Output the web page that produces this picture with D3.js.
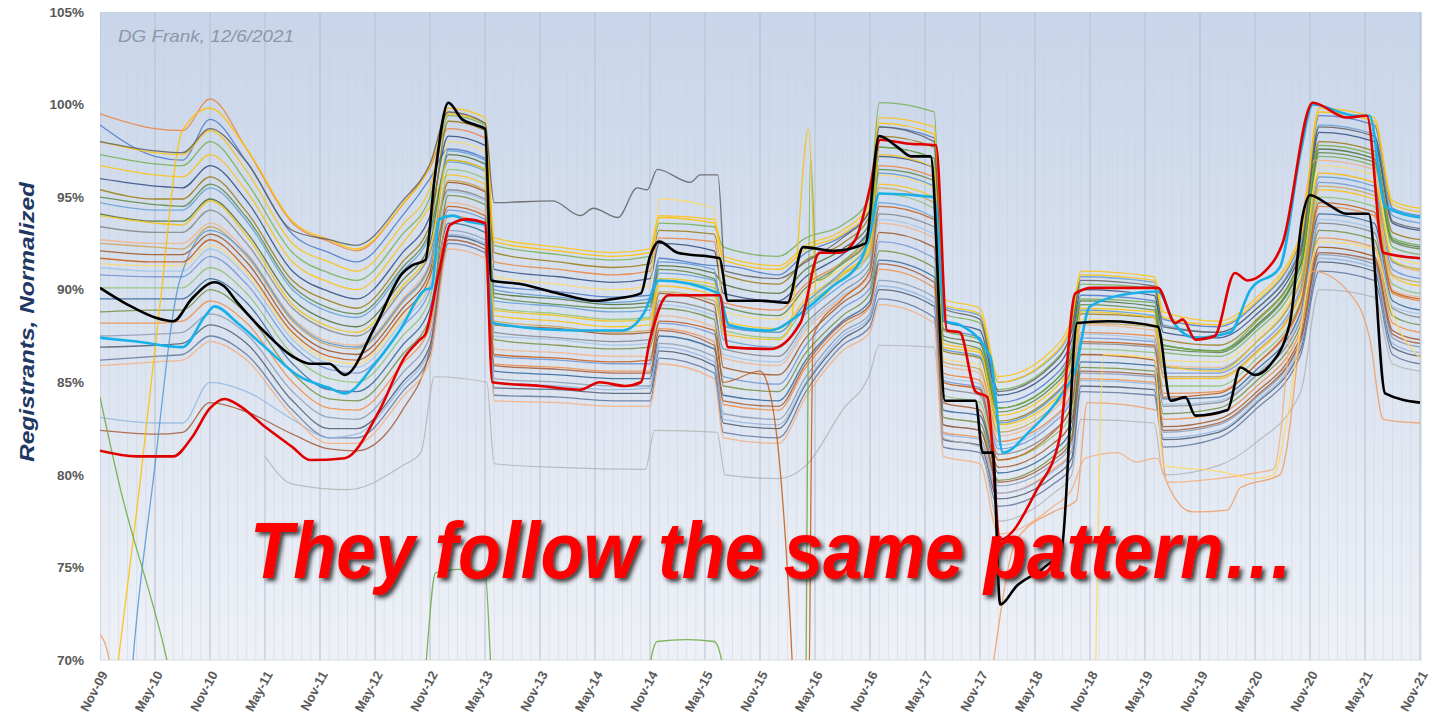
<!DOCTYPE html>
<html><head><meta charset="utf-8">
<script src="https://cdn.jsdelivr.net/npm/d3@7"></script>
<style>body{margin:0;background:#fff;}svg{display:block;}</style>
</head><body>
<svg id="chart" width="1442" height="724"></svg>
<script>
// ---------- DATA ----------
const tickLabels = ["Nov-09","May-10","Nov-10","May-11","Nov-11","May-12","Nov-12","May-13","Nov-13","May-14","Nov-14","May-15","Nov-15","May-16","Nov-16","May-17","Nov-17","May-18","Nov-18","May-19","Nov-19","May-20","Nov-20","May-21","Nov-21"];
const tickMonths = [0,6,12,18,24,30,36,42,48,54,60,66,72,78,84,90,96,102,108,114,120,126,132,138,144];
const yTicks = [70,75,80,85,90,95,100,105];

// months since Nov-09 shared by the background registrant lines
const monthsBg = [0,6,9,12,16,21,25,28,33,36,38,42,43,50,56,60,61,67,68,74,77,81,84,85,91,92,96,98,104,106,107,115,116,122,126,131,133,139,141,144];
const bgColors = ["#ed7d31","#4472c4","#70ad47","#ffc000","#264478","#997300","#5b9bd5","#43682b","#7f7f7f","#f4b183","#9e480e","#ffd966","#698ed0","#8cc168","#255e91","#6f8a33","#f08a3c","#8497b0","#44546a","#ffc000","#548235","#9dc3e6","#c9a14a","#5a6f9a","#8fb4e3","#a0522d"];
const bg01 = [99.5,98.7,98.6,100.3,97.6,93.6,92.6,92.1,94.6,96.6,98.7,98.2,91.5,91.1,90.8,91.0,92.8,92.6,89.3,88.9,90.3,91.5,92.9,96.7,96.1,85.5,85.1,81.8,83.1,84.5,87.7,87.5,84.4,84.5,85.9,89.1,94.5,94.0,89.8,89.4];
const bg02 = [98.9,97.2,97.0,99.2,96.9,93.0,92.0,91.5,94.0,96.0,97.6,97.1,90.2,89.9,89.6,89.7,91.7,91.3,91.3,90.8,92.0,92.9,94.3,98.8,98.2,87.9,87.4,83.9,85.3,86.9,89.7,89.4,88.4,88.0,89.2,92.7,99.4,98.9,94.4,94.0];
const bg03 = [97.3,96.8,96.7,98.0,95.8,92.0,90.9,90.5,93.0,95.0,99.4,98.9,92.4,91.9,91.6,91.8,93.6,93.4,92.3,91.8,92.8,93.5,95.0,100.1,99.6,88.7,88.2,84.6,86.1,87.7,90.3,90.1,86.6,86.4,87.7,91.0,97.2,96.7,92.3,91.9];
const bg04 = [96.7,96.2,96.1,97.3,95.3,91.5,90.4,90.0,92.5,94.5,96.2,95.7,88.6,88.3,88.0,88.1,90.2,89.7,88.3,87.9,89.5,90.9,92.2,95.7,95.0,87.1,86.7,83.2,84.6,86.1,89.0,88.8,85.2,85.2,86.5,89.8,95.4,94.9,90.7,90.2];
const bg05 = [96.0,95.6,95.5,96.7,94.8,91.0,89.9,89.5,92.0,94.0,98.3,97.8,91.1,90.7,90.4,90.6,92.5,92.1,89.8,89.4,90.7,91.9,93.3,97.2,96.6,88.3,87.8,84.3,85.7,87.3,90.0,89.7,87.7,87.4,88.6,92.0,98.5,98.0,93.6,93.2];
const bg06 = [95.4,94.9,94.9,96.1,94.2,90.5,89.4,89.0,91.5,93.5,99.1,98.6,92.0,91.5,91.2,91.4,93.2,93.0,90.8,90.3,91.6,92.5,94.0,98.3,97.7,86.7,86.3,82.9,84.3,85.7,88.7,88.5,87.3,87.0,88.3,91.7,98.0,97.5,93.1,92.7];
const bg07 = [94.7,94.3,94.3,95.5,93.7,90.0,88.8,88.5,91.0,93.0,96.9,96.4,89.4,89.1,88.8,88.9,90.9,90.5,87.3,86.9,88.7,90.3,91.5,94.7,93.9,89.1,88.6,85.0,86.4,88.1,90.7,90.4,88.1,87.7,88.9,92.4,98.9,98.4,94.0,93.6];
const bg08 = [94.1,93.7,93.7,94.9,93.1,89.5,88.3,88.0,90.5,92.5,97.3,96.8,89.8,89.5,89.2,89.3,91.3,90.9,90.3,89.8,91.1,92.2,93.6,97.7,97.1,87.5,87.1,83.6,85.0,86.5,89.4,89.1,87.0,86.7,88.0,91.4,97.6,97.1,92.7,92.3];
const bg09 = [93.4,93.1,93.1,94.3,92.5,89.0,87.8,87.5,90.0,92.0,95.4,94.9,87.7,87.4,87.2,87.3,89.4,88.8,86.8,86.4,88.2,89.9,91.2,94.1,93.4,84.7,84.3,81.1,82.4,83.7,87.1,86.9,83.7,83.9,85.3,88.4,93.6,93.1,89.0,88.5];
const bg10 = [92.7,92.5,92.5,93.6,92.0,88.5,87.2,87.0,89.5,91.5,94.7,94.2,86.8,86.6,86.4,86.4,88.6,88.0,86.3,85.9,87.8,89.6,90.8,93.6,92.8,85.9,85.5,82.1,83.5,84.9,88.1,87.8,85.9,85.8,87.1,90.4,96.3,95.8,91.5,91.0];
const bg11 = [92.1,91.9,91.9,93.0,91.5,88.0,86.7,86.5,89.0,91.0,95.8,95.3,88.1,87.9,87.6,87.7,89.8,89.2,85.8,85.4,87.4,89.3,90.5,93.1,92.3,83.9,83.5,80.4,81.7,82.9,86.5,86.2,82.6,83.0,84.4,87.5,92.3,91.8,87.8,87.3];
const bg12 = [91.4,91.3,91.3,92.4,90.9,87.5,86.2,86.0,88.5,90.5,98.0,97.5,90.7,90.3,90.0,90.2,94.9,94.4,88.8,88.4,89.9,91.2,92.6,96.2,95.5,86.3,85.9,82.5,83.9,85.3,88.4,88.1,86.2,86.1,87.4,90.7,96.7,96.2,91.9,91.4];
const bg13 = [90.8,90.7,90.7,91.8,90.3,87.0,85.7,85.5,88.0,90.0,94.3,93.8,86.4,86.2,86.0,86.0,88.2,87.6,85.3,84.9,87.0,89.0,90.1,92.6,91.7,85.1,84.7,81.4,82.8,84.1,87.4,87.2,85.5,85.5,86.8,90.1,95.8,95.3,91.1,90.6];
const bg14 = [90.1,90.1,90.1,91.2,89.8,86.5,85.2,85.0,87.5,89.5,96.5,96.0,89.0,88.7,88.4,88.5,90.5,90.1,87.8,87.4,89.1,90.6,91.9,95.2,94.4,84.3,83.9,80.8,82.1,83.3,86.8,86.6,84.8,84.8,86.2,89.4,95.0,94.5,90.3,89.8];
const bg15 = [89.5,89.5,89.5,90.6,89.3,86.0,84.6,84.5,87.0,89.0,93.6,93.1,85.6,85.4,85.2,85.2,87.5,86.8,84.3,84.0,86.2,88.3,89.4,91.6,90.7,83.5,83.2,80.1,81.3,82.5,86.1,85.9,84.1,84.2,85.6,88.8,94.1,93.6,89.4,88.9];
const bg16 = [88.8,88.9,88.9,90.0,88.7,85.5,84.1,84.0,86.5,88.5,95.1,94.6,87.3,87.0,86.8,86.9,89.0,88.4,84.8,84.5,86.6,88.6,89.8,92.1,91.2,83.1,82.8,79.7,81.0,82.1,85.8,85.6,83.3,83.6,85.0,88.1,93.2,92.7,88.6,88.1];
const bg17 = [88.2,88.2,88.3,89.4,88.2,85.0,83.6,83.5,86.0,88.0,94.0,93.5,86.0,85.8,85.6,85.6,87.9,87.2,83.8,83.5,85.8,88.0,89.1,91.1,90.1,82.3,82.0,79.0,80.3,81.3,85.2,85.0,83.0,83.3,84.7,87.8,92.8,92.3,88.2,87.7];
const bg18 = [87.5,87.6,87.7,88.7,87.6,84.5,83.1,83.0,85.5,87.5,93.2,92.7,85.2,85.0,84.8,84.8,87.1,86.4,83.3,83.0,85.3,87.7,88.7,90.5,89.6,82.7,82.4,79.4,80.6,81.7,85.5,85.3,82.3,82.7,84.1,87.2,91.9,91.4,87.4,86.9];
const bg19 = [86.9,87.0,87.1,88.1,87.1,84.0,82.5,82.5,85.0,87.0,92.9,92.4,84.7,84.6,84.4,84.4,86.7,85.9,82.8,82.5,84.9,87.3,88.4,90.0,89.1,81.9,81.6,78.7,79.9,80.9,84.8,84.6,81.9,82.3,83.8,86.8,91.5,91.0,86.9,86.4];
const bg20 = [98.0,97.4,97.3,98.6,96.4,92.5,91.5,91.0,93.5,95.5,99.8,99.3,92.8,92.3,92.0,92.2,94.0,93.8,91.8,91.3,92.4,93.2,94.7,99.3,98.8,89.5,89.0,85.3,86.8,88.5,91.0,90.7,88.8,88.3,89.5,93.0,99.8,99.3,94.8,94.4];
const bg21 = [95.0,94.6,94.5,95.7,93.9,90.2,89.0,88.7,91.2,93.2,97.0,96.5,89.6,89.2,89.0,89.1,91.1,90.6,89.1,88.6,90.1,91.4,92.8,96.5,95.9,87.3,86.8,83.4,84.8,86.3,89.2,88.9,86.8,86.6,87.9,91.3,97.4,96.9,92.6,92.2];
const bg22 = [91.2,91.0,91.0,92.2,90.7,87.3,86.0,85.8,88.3,90.3,95.3,94.8,87.5,87.3,87.0,87.1,89.2,88.6,86.5,86.1,88.0,89.7,90.9,93.8,93.0,85.3,84.9,81.6,83.0,84.3,87.6,87.3,83.8,84.0,85.4,88.6,93.8,93.3,89.1,88.7];
const bg23 = [92.5,92.3,92.2,93.4,91.8,88.3,87.0,86.8,89.3,91.3,95.9,95.4,88.3,88.0,87.7,87.8,89.9,89.4,88.1,87.7,89.3,90.8,92.0,95.5,94.7,86.1,85.7,82.3,83.7,85.1,88.2,88.0,85.3,85.3,86.6,89.9,95.6,95.1,90.8,90.4];
const bg24 = [86.2,86.4,86.5,87.5,86.5,83.5,82.0,82.0,84.5,86.5,92.5,92.0,84.3,84.2,84.0,84.0,86.3,85.5,82.3,82.0,84.5,87.0,88.0,89.5,88.5,81.5,81.2,78.3,79.5,80.5,84.5,84.3,81.5,82.0,83.5,86.5,91.0,90.5,86.5,86.0];
const bg25 = [83.1,82.8,82.8,85.0,84.5,83.0,82.0,82.2,84.8,86.8,93.0,92.5,85.0,84.8,84.6,84.7,86.9,86.1,83.0,82.7,85.0,87.5,88.5,90.2,89.3,82.2,81.9,79.0,80.2,81.3,85.1,84.9,82.0,82.4,83.9,87.0,91.7,91.2,87.1,86.6];
const bg26 = [82.4,82.2,82.3,83.9,83.4,82.2,81.4,81.3,83.5,86.8,92.7,92.2,85.9,85.7,85.5,85.5,87.8,87.0,84.0,83.7,86.0,88.2,89.2,91.4,90.4,82.7,82.4,79.6,80.8,81.9,85.6,85.4,82.4,82.8,84.2,87.3,92.0,91.6,87.6,87.1];
const bgSeries = [bg01,bg02,bg03,bg04,bg05,bg06,bg07,bg08,bg09,bg10,bg11,bg12,bg13,bg14,bg15,bg16,bg17,bg18,bg19,bg20,bg21,bg22,bg23,bg24,bg25,bg26];

// outlier registrant lines (own month positions)
const greyTopMonths = [0,6,9,12,16,21,25,28,33,36,38,42,43,49.4,52.4,53.8,56.5,58.6,59.7,60.8,64.4,65.5,67.4,68.2,74,77,81,84,85,91,92,96,98,104,106,107,115,116,122,126,131,133,139,141,144];
const greyTopValues = [98.0,97.5,97.4,98.7,96.9,93.2,92.7,92.4,94.8,96.8,99.6,99.0,94.7,94.8,94.0,94.4,93.9,95.5,95.4,96.5,95.8,96.2,96.2,91.0,90.6,91.5,92.8,94.3,98.8,98.0,89.0,88.4,84.5,86.0,87.8,90.5,90.2,88.0,87.7,88.9,92.2,98.8,98.3,93.7,93.3];
const greyLowMonths = [18,21,27,33,35,36.5,42.2,43,50,59.5,60.5,67.3,68.2,74,77,81,84,85,91,92,96,98,104,106,107,115,116,122,126,131,133,139,141,144];
const greyLowValues = [81.0,79.5,79.2,80.5,81.2,85.3,85.0,80.6,80.4,80.3,82.4,82.3,80.0,79.8,80.5,83.5,85.5,87.0,86.9,82.0,81.5,77.5,79.0,80.0,83.0,82.8,80.0,80.5,81.7,84.5,90.0,89.6,86.0,85.6];
const yellowLeftMonths = [0,2,4.4,6.5,9,12,16,21,25,28,33,36,38,42,43,50,56,60,61,67,68,74,77,81,84,85,91,92,96,98,104,106,107,115,116,122,126,131,133,139,141,144];
const yellowLeftValues = [62.0,70.0,79.7,89.0,98.6,99.8,97.6,93.7,92.7,92.2,94.6,96.7,99.5,99.0,92.6,92.1,91.8,92.0,93.9,93.6,91.6,91.1,92.2,93.0,94.4,99.0,98.4,89.2,88.7,85.0,86.5,88.2,90.8,90.5,88.5,88.1,89.3,92.8,99.6,99.1,94.6,94.2];
const blueLeftMonths = [3.0,3.6,5.8,8.7,12,16,21,25,28,33,36,38,42,43,50,56,60,61,67,68,74,77,81,84,85,91,92,96,98,104,106,107,115,116,122,126,131,133,139,141,144];
const blueLeftValues = [66,70,79.7,90.5,93.2,91.9,88.4,87.1,86.9,89.4,91.4,97.5,97.0,90.0,89.6,89.3,89.5,91.5,91.1,88.0,87.7,89.3,91.0,92.7,96.3,95.6,86.8,86.4,82.8,84.2,85.8,88.9,88.6,85.8,85.7,87.1,90.5,96.1,95.6,91.5,91.1];
const yellowSpikeMonths = [0,6,9,12,16,21,25,28,33,36,38,42,43,50,56,60,61,67,68,74,75.3,77.3,78.2,81,84,85,91,92,96,98,104,106,107,115,116,122,126,131,133,139,141,144];
const yellowSpikeValues = [94.0,93.6,93.5,94.8,92.9,89.2,88.0,87.7,90.2,92.2,97.0,96.5,88.9,88.6,88.3,88.4,90.6,90.3,87.6,87.3,88.0,98.7,89.5,90.8,92.4,97.3,96.6,86.9,86.6,82.7,84.0,85.6,88.8,88.5,85.9,85.6,87.1,90.6,96.3,95.8,91.6,91.1];
const greenMonths = [0,2,7.3,9,35,35.6,36.6,39,42,42.6,43,59.5,60.1,60.8,64,67,67.8,68.3,76.8,77.5,78.2,81,84,85,91,92,96,98,104,106,107,115,116,122,126,131,133,139,141,144];
const greenValues = [84.2,79.7,70,66,66,70,74.7,74.9,74.8,70,66,66,70,71.0,71.1,71.0,70,66,60,97.1,90.5,91.5,93.3,97.7,97.1,87.8,87.3,83.6,85.0,86.8,89.5,89.3,87.0,86.7,88.2,91.6,97.8,97.3,92.8,92.4];
const brownMonths = [0,6,9,12,16,21,25,28,33,36,38,42,43,50,56,60,61,67,68,72,73,74.3,75.5,76,77.2,77.8,81,84,85,91,92,96,98,104,106,107,115,116,122,126,131,133,139,141,144];
const brownValues = [91.7,91.5,91.5,92.7,91.1,87.7,86.4,86.2,88.7,90.7,94.5,94.0,86.5,86.3,86.1,86.2,88.3,87.8,85.0,85.6,84.6,79.7,70,64,64,87.5,89.5,91.0,94.5,93.8,85.0,84.6,80.8,82.3,83.8,87.2,87.0,84.2,84.4,85.9,89.3,94.7,94.2,89.9,89.5];
const orangeLowMonths = [0,1,2,96,97.5,100,104,106.5,107.7,115.3,116.3,119.2,123,124.4,128.7,132.3,137.1,138.5,140,144];
const orangeLowValues = [71.4,70,64,64,70,76.5,78.0,78.6,83.9,83.5,79.7,78.0,78.1,79.3,80.0,91.0,89.3,87.4,83.0,82.8];
const lightOrangeMonths = [0,6,9,12,16,21,25,28,33,36,38,42,43,50,56,60,61,67,68,74,77,81,84,85,91,92,96,98,104,106,107.5,111,113,115.3,116.5,122,126,128,130.8,132.5,139,141,144];
const lightOrangeValues = [85.9,86.1,86.2,87.2,86.2,83.2,81.7,81.7,84.2,86.2,92.2,91.7,84.0,83.9,83.7,83.7,86.0,85.2,82.0,81.7,84.2,86.7,87.7,89.2,88.2,81.0,80.6,76.8,78.3,79.2,80.9,81.2,80.7,80.9,79.6,79.8,80.1,80.3,92.7,97.0,96.5,90.0,89.6];
const yellowLowMonths = [108.5,109.5,115,116,122,126,128,129.5,131,133,139,141,144];
const yellowLowValues = [66,86.5,86.3,80.5,80.2,79.8,80.0,83.0,88.0,92.6,92.2,88.7,86.3];

// highlighted registrant lines
const cyanMonths = [0,4,9,11.5,12.5,15,18,21.8,25,26.7,30,32.7,35.5,36.2,37,38.5,40,42,42.8,52,57,59.3,61,67.5,68.6,73,76.4,79.7,83,84,85,91,92.2,93.8,97.1,98.5,101.5,104.7,106.4,108,112.4,115.4,117.3,119.5,123.3,125.5,128.7,131,132.3,137,138.5,140.2,144];
const cyanValues = [87.4,87.2,86.9,88.6,89.1,88.2,86.9,85.3,84.7,84.4,86.0,87.8,90.0,90.1,93.8,94.0,93.7,93.5,88.2,87.8,87.8,88.7,90.5,89.8,88.1,87.8,88.7,90.1,91.6,93.0,95.2,95.0,88.3,88.1,86.4,81.2,82.4,84.2,85.7,89.1,89.8,89.9,88.1,87.4,87.7,90.0,91.2,97.5,100.0,99.4,99.4,94.5,93.9];
const redMonths = [0,4,8,10,12,13.6,15,18,21,22.9,26.7,30.5,33.3,34.9,35.5,37,38.2,40,42,42.8,48,52.4,54.5,57.3,59,60,62,67.6,68.5,73.1,76.4,78.5,80.7,82.4,84,85.1,88,91.2,92.4,93.8,95.5,96.8,98.2,102.2,104.7,106.4,108.3,115.4,117.3,118.1,119.5,121.6,123.8,125.2,127.1,129,132.3,136,138.2,140,144];
const redValues = [81.3,81.0,81.0,82.0,83.6,84.1,83.8,82.6,81.5,80.8,80.9,83.5,86.4,87.3,87.6,91.0,93.5,93.8,93.6,85.0,84.8,84.6,85.0,84.8,85.0,87.3,89.7,89.7,86.9,86.8,88.2,92.0,92.0,92.7,95.5,98.1,97.9,97.8,87.8,87.7,84.5,84.2,76.5,79.2,82.0,89.8,90.1,90.1,88.2,88.4,87.3,87.5,90.9,90.5,91.0,92.5,100.1,99.3,99.4,92.0,91.7];
const blackMonths = [0,3,6,8,10,12.5,13.5,15,18,21,22.9,25,26.7,30,33,34,35.5,36.5,38,39.5,41,42,42.7,46,50,54,56,59,60,61,63,67.6,68.5,72,75,76.7,80,83.5,85,87,88.5,90.6,92.2,95.5,96.3,97.4,98.2,100,103,104.9,106.6,110,115.4,116.8,118.4,119.5,123,124.4,126,127.6,129.8,131.2,132,134,136,138.4,140.2,144];
const blackValues = [90.1,89.2,88.5,88.3,89.5,90.4,90.2,89.3,87.7,86.4,86.0,86.0,85.4,88.0,90.9,91.3,91.6,96.0,100.1,99.2,98.9,98.7,90.5,90.3,89.8,89.4,89.5,89.8,91.8,92.6,92.0,91.7,89.4,89.4,89.3,92.3,92.1,92.5,98.3,97.7,97.2,97.2,84.0,84.0,81.2,81.2,73.0,74.0,75.0,76.0,88.2,88.3,88.0,84.0,84.2,83.2,83.5,85.8,85.4,85.9,88.2,94.0,95.1,94.6,94.1,94.1,84.4,83.9];

const creditText = "DG Frank, 12/6/2021";
const yTitle = "Registrants, Normalized";
const annotation = "They follow the same pattern\u2026";

// ---------- CHART ----------
const svg = d3.select("#chart");
const P = {left:100, right:1422, top:12, bottom:660};
const x = d3.scaleLinear().domain([0,144]).range([100,1420]);
const y = d3.scaleLinear().domain([70,105]).range([P.bottom,P.top]);

const defs = svg.append("defs");
const grad = defs.append("linearGradient").attr("id","bgGrad").attr("x1",0).attr("y1",0).attr("x2",0).attr("y2",1);
grad.append("stop").attr("offset","0%").attr("stop-color","#c8d5ea");
grad.append("stop").attr("offset","55%").attr("stop-color","#dce4f0");
grad.append("stop").attr("offset","100%").attr("stop-color","#eef1f7");
defs.append("clipPath").attr("id","plotClip").append("rect")
  .attr("x",P.left).attr("y",P.top).attr("width",P.right-P.left).attr("height",P.bottom-P.top);
const flt = defs.append("filter").attr("id","shadow").attr("x","-5%").attr("y","-30%").attr("width","115%").attr("height","170%");
flt.append("feDropShadow").attr("dx",3).attr("dy",3).attr("stdDeviation",2)
  .attr("flood-color","#1a1a1a").attr("flood-opacity",0.85);

svg.append("rect").attr("x",P.left).attr("y",P.top).attr("width",P.right-P.left).attr("height",P.bottom-P.top)
  .attr("fill","url(#bgGrad)");

// monthly and half-year vertical gridlines
const grid = svg.append("g").attr("clip-path","url(#plotClip)");
grid.selectAll("line.m").data(d3.range(0,145)).join("line")
  .attr("x1",d=>x(d)).attr("x2",d=>x(d)).attr("y1",P.top).attr("y2",P.bottom)
  .attr("stroke","#c9d0dc").attr("stroke-width",0.8).attr("opacity",0.55);
grid.selectAll("line.h").data(tickMonths).join("line")
  .attr("x1",d=>x(d)).attr("x2",d=>x(d)).attr("y1",P.top).attr("y2",P.bottom)
  .attr("stroke","#b3bccb").attr("stroke-width",1).attr("opacity",0.8);

svg.append("line").attr("x1",P.left).attr("x2",P.right).attr("y1",P.bottom).attr("y2",P.bottom)
  .attr("stroke","#d6d9de").attr("stroke-width",1);

// y labels
svg.append("g").selectAll("text").data(yTicks).join("text")
  .attr("x",84).attr("y",d=>y(d)).attr("dy","0.35em").attr("text-anchor","end")
  .attr("font-family","Liberation Sans, Arial, sans-serif").attr("font-weight","bold").attr("font-size",13.5)
  .attr("fill","#595959").text(d=>d+"%");

// x labels
svg.append("g").selectAll("text").data(tickMonths).join("text")
  .attr("transform",d=>`translate(${x(d)+4},${P.bottom+12}) rotate(-62)`)
  .attr("text-anchor","end").attr("dy","0.35em")
  .attr("font-family","Liberation Sans, Arial, sans-serif").attr("font-weight","bold").attr("font-size",13)
  .attr("fill","#595959").text((d,i)=>tickLabels[i]);

// y title
svg.append("text").attr("transform","translate(34,322) rotate(-90)")
  .attr("text-anchor","middle").attr("font-family","Liberation Sans, Arial, sans-serif")
  .attr("font-weight","bold").attr("font-style","italic").attr("font-size",21)
  .attr("textLength",280).attr("lengthAdjust","spacingAndGlyphs")
  .attr("fill","#1f3864").text(yTitle);

// lines
const lineGen = d3.line().x(d=>x(d[0])).y(d=>y(d[1])).curve(d3.curveMonotoneX);
const linesG = svg.append("g").attr("clip-path","url(#plotClip)").attr("fill","none");
function drawLine(months, values, color, width, opacity){
  linesG.append("path").datum(months.map((m,i)=>[m,values[i]]))
    .attr("d",lineGen).attr("stroke",color).attr("stroke-width",width)
    .attr("stroke-opacity",opacity).attr("stroke-linejoin","round").attr("fill","none");
}
bgSeries.forEach((s,i)=>drawLine(monthsBg, s, bgColors[i], 1.3, 0.8));
drawLine(greyLowMonths, greyLowValues, "#b0b0b0", 1.2, 0.8);
drawLine(orangeLowMonths, orangeLowValues, "#f0a06a", 1.3, 0.9);
drawLine(lightOrangeMonths, lightOrangeValues, "#f4b183", 1.3, 0.9);
drawLine(yellowLowMonths, yellowLowValues, "#ffd966", 1.3, 0.9);
drawLine(yellowLeftMonths, yellowLeftValues, "#ffc000", 1.3, 0.9);
drawLine(blueLeftMonths, blueLeftValues, "#5b9bd5", 1.3, 0.9);
drawLine(greenMonths, greenValues, "#70ad47", 1.3, 0.9);
drawLine(brownMonths, brownValues, "#c55a11", 1.3, 0.85);
drawLine(yellowSpikeMonths, yellowSpikeValues, "#f2c314", 1.3, 0.9);
drawLine(greyTopMonths, greyTopValues, "#5f5f5f", 1.3, 0.85);
drawLine(cyanMonths, cyanValues, "#18b0e8", 2.6, 1);
drawLine(redMonths, redValues, "#e00000", 2.6, 1);
drawLine(blackMonths, blackValues, "#000000", 2.6, 1);

// credit
svg.append("text").attr("x",118).attr("y",42)
  .attr("font-family","Liberation Sans, Arial, sans-serif").attr("font-style","italic").attr("font-size",17)
  .attr("textLength",176).attr("lengthAdjust","spacingAndGlyphs")
  .attr("fill","#8c96a8").text(creditText);

// annotation
svg.append("text").attr("x",250).attr("y",578)
  .attr("font-family","Liberation Sans, Arial, sans-serif").attr("font-weight","bold").attr("font-style","italic")
  .attr("font-size",79).attr("textLength",1044).attr("lengthAdjust","spacingAndGlyphs")
  .attr("fill","#ff0000").attr("filter","url(#shadow)").text(annotation);
</script>
</body></html>
